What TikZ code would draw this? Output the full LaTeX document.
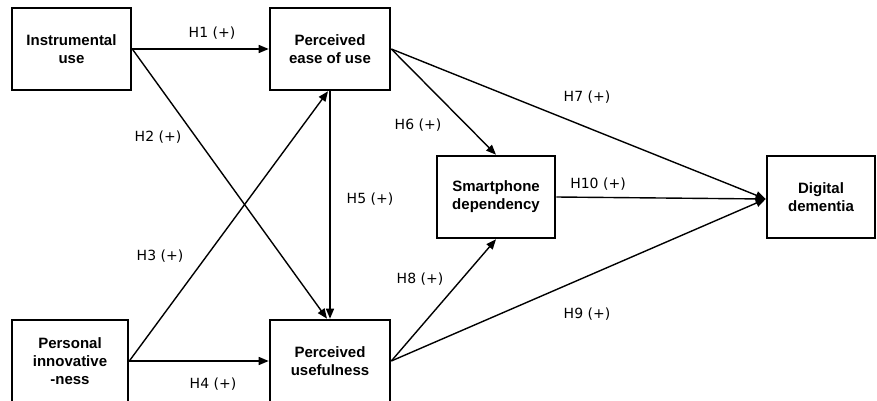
\documentclass[tikz,border=0pt]{standalone}
\usepackage{fontspec}
\setmainfont{Liberation Sans}
\newfontfamily\labfont{DejaVu Sans}
\usetikzlibrary{arrows.meta,calc}
\begin{document}
\begin{tikzpicture}[x=1pt,y=-1pt,
  box/.style={draw,line width=2.6pt,minimum width=#1,minimum height=82pt,inner sep=0pt,align=center,font=\fontsize{15}{18}\selectfont\bfseries},
  box/.default=120pt,
  arr/.style={line width=1.4pt,-{Triangle[length=10pt,width=8pt]}},
  lab/.style={font=\labfont\fontsize{14}{16}\selectfont}]
\clip (0,0) rectangle (877,401);
\fill[white] (0,0) rectangle (877,401);
\node[box=119pt] (iu) at (71.5,49) {Instrumental\\use};
\node[box] (peou) at (330,49) {Perceived\\ease of use};
\node[box=116pt] (pi) at (70,361) {Personal\\innovative\\-ness};
\node[box] (pu) at (330,361) {Perceived\\usefulness};
\node[box=118pt] (sd) at (496,197) {Smartphone\\dependency};
\node[box=108pt] (dd) at (821,197) {Digital\\dementia};
\coordinate (ddin) at ($(dd.west)+(0,2)$);
\coordinate (peoub) at ($(peou.south)+(-2,0)$);
\coordinate (put) at ($(pu.north)+(-3,0)$);
\draw[arr] (iu.east) -- (peou.west);
\draw[arr] (iu.east) -- (put);
\draw[arr] (pi.east) -- (peoub);
\draw[arr] (pi.east) -- (pu.west);
\draw[arr] (peou.south) -- (pu.north);
\draw[arr] (peou.east) -- (sd.north);
\draw[arr] (peou.east) -- (ddin);
\draw[arr] (pu.east) -- (sd.south);
\draw[arr] (pu.east) -- (ddin);
\draw[arr] (sd.east) -- (ddin);
\node[lab] (l1) at (212,33) {H1 (+)};
\node[lab] (l2) at (158,137) {H2 (+)};
\node[lab] (l3) at (160,256) {H3 (+)};
\node[lab] (l4) at (213,384) {H4 (+)};
\node[lab] (l5) at (370,199) {H5 (+)};
\node[lab] (l6) at (418,125) {H6 (+)};
\node[lab] (l7) at (587,97) {H7 (+)};
\node[lab] (l8) at (420,279) {H8 (+)};
\node[lab] (l9) at (587,314) {H9 (+)};
\node[lab] (l10) at (598,184) {H10 (+)};
\end{tikzpicture}
\end{document}
